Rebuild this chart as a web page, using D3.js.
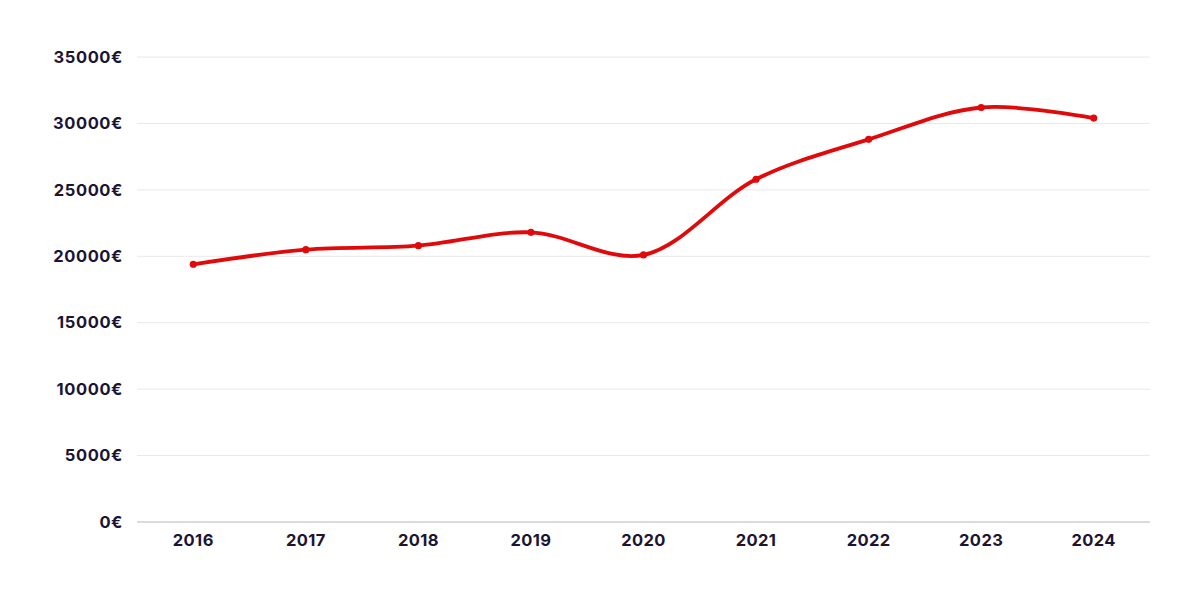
<!DOCTYPE html>
<html><head><meta charset="utf-8">
<script src="https://cdn.jsdelivr.net/npm/d3@7"></script>
<style>body{margin:0;background:#fff}svg{display:block}</style>
</head><body>
<svg id="c" width="1200" height="600"></svg>
<script>
const years = ["2016","2017","2018","2019","2020","2021","2022","2023","2024"];
const values = [19400, 20500, 20800, 21800, 20100, 25800, 28800, 31200, 30400];
const yTicks = [0, 5000, 10000, 15000, 20000, 25000, 30000, 35000];

(function () {
const svg = d3.select("#c");
const mLeft = 137, mRight = 1150, mTop = 57, mBottom = 522;
const x = d3.scalePoint().domain(years).range([mLeft, mRight]).padding(0.5);
const y = d3.scaleLinear().domain([0, 35000]).range([mBottom, mTop]);
const font = "Inter, 'Open Sans', sans-serif";
const textColor = "#1b1533";

svg.append("g").selectAll("line").data(yTicks).join("line")
  .attr("x1", mLeft).attr("x2", mRight)
  .attr("y1", d => y(d)).attr("y2", d => y(d))
  .attr("stroke", d => d === 0 ? "#cfcfcf" : "#e8e8e8")
  .attr("stroke-width", d => d === 0 ? 1.5 : 1);

svg.append("g").selectAll("text").data(yTicks).join("text")
  .attr("x", 123).attr("y", d => y(d)).attr("dy", "0.35em")
  .attr("text-anchor", "end")
  .attr("font-family", font).attr("font-weight", 700).attr("font-size", 16.5)
  .attr("letter-spacing", "0.6px")
  .attr("fill", textColor)
  .text(d => d + "€");

svg.append("g").selectAll("text").data(years).join("text")
  .attr("x", d => x(d)).attr("y", 540).attr("dy", "0.35em")
  .attr("text-anchor", "middle")
  .attr("font-family", font).attr("font-weight", 700).attr("font-size", 16.5)
  .attr("letter-spacing", "0.4px")
  .attr("fill", textColor)
  .text(d => d);

const line = d3.line().x((d, i) => x(years[i])).y(d => y(d)).curve(d3.curveCatmullRom.alpha(0.5));
svg.append("path").datum(values)
  .attr("d", line).attr("fill", "none")
  .attr("stroke", "#e10a0a").attr("stroke-width", 3.8)
  .attr("stroke-linejoin", "round").attr("stroke-linecap", "round");

svg.append("g").selectAll("circle").data(values).join("circle")
  .attr("cx", (d, i) => x(years[i])).attr("cy", d => y(d)).attr("r", 3.6)
  .attr("fill", "#e10a0a");
})();
</script>
</body></html>
